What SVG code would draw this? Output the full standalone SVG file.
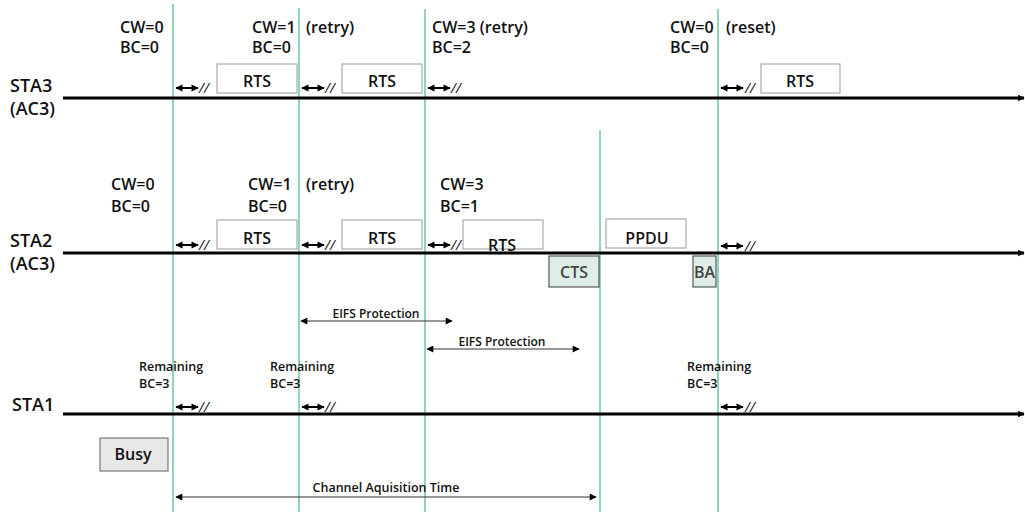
<svg xmlns="http://www.w3.org/2000/svg" width="1025" height="512" viewBox="0 0 1025 512">
<defs>
<style>
.lbl{font-family:"Open Sans","Noto Sans",sans-serif;font-weight:600;fill:#111}
.sta{font-size:18px}
.cw{font-size:16px}
.box{font-size:16px}
.sm{font-size:12.5px;font-family:"Open Sans","Noto Sans",sans-serif;font-weight:600;fill:#111}
.vl{stroke:#6cc5a5;stroke-width:1.5;fill:none}
.tl{stroke:#000;stroke-width:3;fill:none}
.frame{fill:#fff;stroke:#aaa;stroke-width:1.2}
.ack{fill:#deeee6;stroke:#555;stroke-width:1.2}
.bo{stroke:#000;stroke-width:2;fill:none}
.dim{stroke:#333;stroke-width:1;fill:none}
.sl{font-family:"Open Sans","Noto Sans",sans-serif;font-size:14px;fill:#111;font-style:italic}
</style>
<marker id="tlh" viewBox="0 0 10 10" refX="9" refY="5" markerWidth="2.2" markerHeight="3.2" orient="auto" markerUnits="strokeWidth"><path d="M0,0L10,5L0,10z" fill="#000"/></marker>
<marker id="bh" viewBox="0 0 10 10" refX="9" refY="5" markerWidth="4" markerHeight="3.6" orient="auto-start-reverse" markerUnits="strokeWidth"><path d="M0,0L10,5L0,10z" fill="#000"/></marker>
<marker id="dh" viewBox="0 0 10 10" refX="9" refY="5" markerWidth="8" markerHeight="7" orient="auto-start-reverse" markerUnits="userSpaceOnUse"><path d="M0,0L10,5L0,10z" fill="#000"/></marker>
</defs>

<g id="connectors">
<line class="vl" x1="173" y1="4" x2="173" y2="512"/>
<line class="vl" x1="299" y1="8" x2="299" y2="512"/>
<line class="vl" x1="425" y1="9" x2="425" y2="512"/>
<line class="vl" x1="600" y1="130" x2="600" y2="512"/>
<line class="vl" x1="718" y1="9" x2="718" y2="512"/>

<line class="tl" x1="63" y1="98" x2="1024" y2="98" marker-end="url(#tlh)"/>
<line class="tl" x1="63" y1="253" x2="1024" y2="253" marker-end="url(#tlh)"/>
<line class="tl" x1="63" y1="414" x2="1024" y2="414" marker-end="url(#tlh)"/>

<g id="backoffs">
<line class="bo" x1="176" y1="88" x2="198" y2="88" marker-start="url(#bh)" marker-end="url(#bh)"/>
<line class="bo" x1="302" y1="88" x2="324" y2="88" marker-start="url(#bh)" marker-end="url(#bh)"/>
<line class="bo" x1="428" y1="88" x2="450" y2="88" marker-start="url(#bh)" marker-end="url(#bh)"/>
<line class="bo" x1="721" y1="88" x2="743" y2="88" marker-start="url(#bh)" marker-end="url(#bh)"/>
<line class="bo" x1="176" y1="245" x2="198" y2="245" marker-start="url(#bh)" marker-end="url(#bh)"/>
<line class="bo" x1="302" y1="245" x2="324" y2="245" marker-start="url(#bh)" marker-end="url(#bh)"/>
<line class="bo" x1="428" y1="245" x2="450" y2="245" marker-start="url(#bh)" marker-end="url(#bh)"/>
<line class="bo" x1="721" y1="246" x2="743" y2="246" marker-start="url(#bh)" marker-end="url(#bh)"/>
<line class="bo" x1="176" y1="407" x2="198" y2="407" marker-start="url(#bh)" marker-end="url(#bh)"/>
<line class="bo" x1="302" y1="407" x2="324" y2="407" marker-start="url(#bh)" marker-end="url(#bh)"/>
<line class="bo" x1="721" y1="407" x2="743" y2="407" marker-start="url(#bh)" marker-end="url(#bh)"/>
<text class="sl" x="199" y="93">//</text>
<text class="sl" x="325" y="93">//</text>
<text class="sl" x="451" y="93">//</text>
<text class="sl" x="745" y="93">//</text>
<text class="sl" x="199" y="250">//</text>
<text class="sl" x="325" y="250">//</text>
<text class="sl" x="451" y="250">//</text>
<text class="sl" x="745" y="251">//</text>
<text class="sl" x="199" y="412">//</text>
<text class="sl" x="325" y="412">//</text>
<text class="sl" x="745" y="412">//</text>
</g>

<line class="dim" x1="301" y1="321" x2="452" y2="321" marker-start="url(#dh)" marker-end="url(#dh)"/>
<line class="dim" x1="427" y1="349" x2="579" y2="349" marker-start="url(#dh)" marker-end="url(#dh)"/>
<line class="dim" x1="176" y1="497" x2="596" y2="497" marker-start="url(#dh)" marker-end="url(#dh)"/>
<text class="sm" x="376" y="318" text-anchor="middle" style="font-size:12px">EIFS Protection</text>
<text class="sm" x="502" y="346" text-anchor="middle" style="font-size:12px">EIFS Protection</text>
<text class="sm" x="386" y="492" text-anchor="middle">Channel Aquisition Time</text>
</g>

<g id="sta3">
<text class="lbl sta" x="10" y="92">STA3</text>
<text class="lbl sta" x="10" y="115">(AC3)</text>
<text class="lbl cw" x="120" y="33">CW=0</text>
<text class="lbl cw" x="120" y="53">BC=0</text>
<text class="lbl cw" x="252" y="33">CW=1</text>
<text class="lbl cw" x="306" y="33">(retry)</text>
<text class="lbl cw" x="252" y="53">BC=0</text>
<text class="lbl cw" x="432" y="33">CW=3 (retry)</text>
<text class="lbl cw" x="432" y="53">BC=2</text>
<text class="lbl cw" x="670" y="33">CW=0</text>
<text class="lbl cw" x="726" y="33">(reset)</text>
<text class="lbl cw" x="670" y="53">BC=0</text>
</g>
<g id="sta3-rts1"><rect class="frame" x="217" y="64" width="80" height="29"/><text class="lbl box" x="257" y="87" text-anchor="middle">RTS</text></g>
<g id="sta3-rts2"><rect class="frame" x="342" y="64" width="80" height="29"/><text class="lbl box" x="382" y="87" text-anchor="middle">RTS</text></g>
<g id="sta3-rts3"><rect class="frame" x="761" y="64" width="79" height="29"/><text class="lbl box" x="800" y="87" text-anchor="middle">RTS</text></g>

<g id="sta2">
<text class="lbl sta" x="10" y="247">STA2</text>
<text class="lbl sta" x="10" y="270">(AC3)</text>
<text class="lbl cw" x="111" y="190">CW=0</text>
<text class="lbl cw" x="111" y="212">BC=0</text>
<text class="lbl cw" x="248" y="190">CW=1</text>
<text class="lbl cw" x="306" y="190">(retry)</text>
<text class="lbl cw" x="248" y="212">BC=0</text>
<text class="lbl cw" x="440" y="190">CW=3</text>
<text class="lbl cw" x="440" y="212">BC=1</text>
</g>
<g id="sta2-rts1"><rect class="frame" x="217" y="220" width="80" height="29"/><text class="lbl box" x="257" y="244" text-anchor="middle">RTS</text></g>
<g id="sta2-rts2"><rect class="frame" x="342" y="220" width="80" height="29"/><text class="lbl box" x="382" y="244" text-anchor="middle">RTS</text></g>
<g id="sta2-rts3"><rect class="frame" x="463" y="220" width="80" height="29"/><text class="lbl box" x="502" y="251" text-anchor="middle">RTS</text></g>
<g id="sta2-ppdu"><rect class="frame" x="606" y="219" width="80" height="29"/><text class="lbl box" x="647" y="244" text-anchor="middle">PPDU</text></g>
<g id="cts"><rect class="ack" x="549" y="256" width="50" height="31"/><text class="lbl box" x="574" y="278" text-anchor="middle" style="fill:#444">CTS</text></g>
<g id="ba"><rect class="ack" x="693" y="256" width="23" height="31"/><text class="lbl box" x="694" y="278" style="fill:#444">BA</text></g>

<g id="sta1">
<text class="lbl sta" x="12" y="411">STA1</text>
<text class="sm" x="139" y="371">Remaining</text>
<text class="sm" x="139" y="388">BC=3</text>
<text class="sm" x="270" y="371">Remaining</text>
<text class="sm" x="270" y="388">BC=3</text>
<text class="sm" x="687" y="371">Remaining</text>
<text class="sm" x="687" y="388">BC=3</text>
</g>
<g id="busy"><rect x="100" y="438" width="68" height="33" fill="#e8e8e8" stroke="#777" stroke-width="1.2"/><text class="lbl box" x="133" y="460" text-anchor="middle">Busy</text></g>
</svg>
